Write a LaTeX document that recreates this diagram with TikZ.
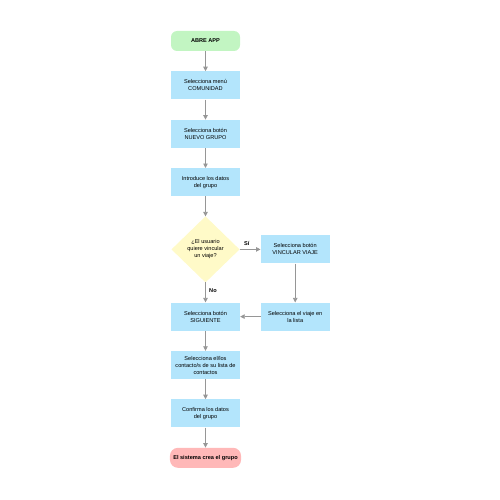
\documentclass[tikz,border=0pt]{standalone}
\usepackage{fontspec}
\setmainfont{Liberation Sans}
\usetikzlibrary{shapes.geometric, arrows.meta, positioning}
\definecolor{startcol}{RGB}{194,245,194}
\definecolor{stepcol}{RGB}{179,229,252}
\definecolor{askcol}{RGB}{255,250,200}
\definecolor{endcol}{RGB}{255,184,184}
\definecolor{arrowcol}{RGB}{150,150,150}

\begin{document}
\begin{tikzpicture}[
      node distance=20pt,
      every node/.style={font=\fontsize{5.6}{7}\selectfont, align=center},
      stepbox/.style={rectangle, fill=stepcol, minimum width=69pt, minimum height=28pt, inner sep=1pt},
      startbox/.style={rectangle, rounded corners=6pt, fill=startcol, minimum width=69pt, minimum height=20pt, font=\fontsize{5.6}{7}\selectfont\bfseries},
      endbox/.style={rectangle, rounded corners=8pt, fill=endcol, minimum width=69pt, minimum height=20pt, font=\fontsize{5.6}{7}\selectfont\bfseries},
      askbox/.style={diamond, fill=askcol, minimum width=68pt, minimum height=66pt, inner sep=0pt, outer sep=0pt},
      arr/.style={-{Triangle[length=4.5pt,width=4.5pt]}, line width=0.8pt, draw=arrowcol},
      lbl/.style={font=\fontsize{5.6}{7}\selectfont\bfseries}
    ]
    \useasboundingbox (0,0) rectangle (500pt,-500pt);
    \node[startbox] (abre) at (205.5pt,-41pt) {ABRE APP};
    \node[stepbox, below=of abre] (menu) {Selecciona menú\\COMUNIDAD};
    \node[stepbox, below=of menu] (nuevo) {Selecciona botón\\NUEVO GRUPO};
    \node[stepbox, below=of nuevo] (datos) {Introduce los datos\\del grupo};
    \node[askbox, below=20pt of datos] (vincular) {¿El usuario\\quiere vincular\\un viaje?};
    \node[stepbox, right=21pt of vincular] (botonviaje) {Selecciona botón\\VINCULAR VIAJE};
    \node[stepbox, below=20pt of vincular] (siguiente) {Selecciona botón\\SIGUIENTE};
    \node[stepbox] (viaje) at (botonviaje |- siguiente) {Selecciona el viaje en\\la lista};
    \node[stepbox, below=of siguiente] (contactos) {Selecciona el/los\\contacto/s de su lista de\\contactos};
    \node[stepbox, below=of contactos] (confirma) {Confirma los datos\\del grupo};
    \node[endbox, below=of confirma] (fin) {El sistema crea el grupo};

    \draw[arr] (abre) -- (menu);
    \draw[arr] (menu) -- (nuevo);
    \draw[arr] (nuevo) -- (datos);
    \draw[arr] (datos) -- (vincular);
    \draw[arr] (vincular) -- node[lbl, above, pos=0.35] {Sí} (botonviaje);
    \draw[arr] (vincular) -- node[lbl, right, pos=0.4] {No} (siguiente);
    \draw[arr] (botonviaje) -- (viaje);
    \draw[arr] (viaje) -- (siguiente);
    \draw[arr] (siguiente) -- (contactos);
    \draw[arr] (contactos) -- (confirma);
    \draw[arr] (confirma) -- (fin);
  \end{tikzpicture}
\end{document}
